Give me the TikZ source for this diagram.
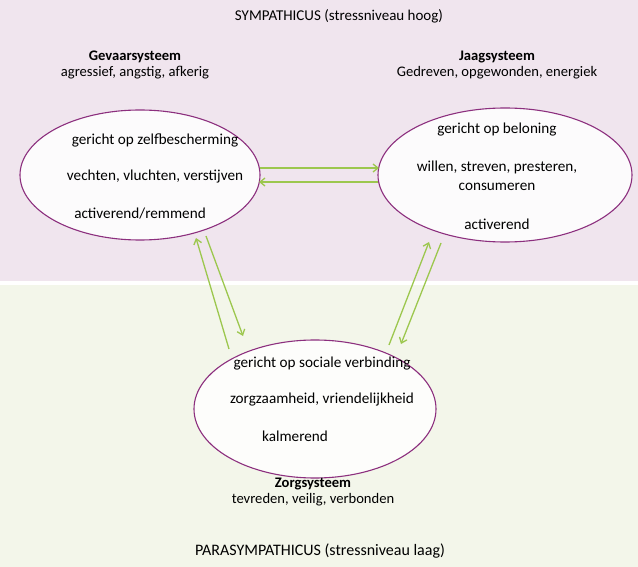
\documentclass[tikz,border=0pt]{standalone}
\usepackage{fontspec}
\setmainfont{Carlito}
\usetikzlibrary{shapes.geometric,arrows.meta}
\definecolor{pinkbg}{HTML}{F0E5EE}
\definecolor{greenbg}{HTML}{F3F6EA}
\definecolor{purp}{HTML}{8C2F7E}
\definecolor{arr}{HTML}{9CC74E}
\begin{document}
\begin{tikzpicture}[x=1pt,y=-1pt,font=\fontsize{15.2}{17}\selectfont,
  sys/.style={ellipse,draw=purp,line width=1.1pt,fill=white,fill opacity=0.85,text opacity=1,align=center,inner sep=0pt},
  lbl/.style={align=center,font=\fontsize{14.6}{16.5}\selectfont},
  big/.style={font=\fontsize{15}{17}\selectfont},
  ar/.style={draw=arr,line width=1.3pt,-{Straight Barb[length=5pt,width=8pt]}}]
\useasboundingbox (0,0) rectangle (638,567);
\fill[pinkbg] (0,0) rectangle (638,281);
\fill[greenbg] (0,285) rectangle (638,567);
\node[big] (symp) at (339,16) {SYMPATHICUS (stressniveau hoog)};
\node[font=\fontsize{16}{18}\selectfont] (para) at (320,551) {PARASYMPATHICUS (stressniveau laag)};
\node[sys,minimum width=240pt,minimum height=130pt] (gev) at (140,175) {};
\node (g1) at (155,140) {gericht op zelfbescherming};
\node (g2) at (155,177) {vechten, vluchten, verstijven};
\node (g3) at (140,214) {activerend/remmend};
\node[lbl] (gevt) at (135,65) {\textbf{Gevaarsysteem}\\agressief, angstig, afkerig};
\node[sys,minimum width=254pt,minimum height=134pt] (jaag) at (505,175) {};
\node (j1) at (497,130) {gericht op beloning};
\node[align=center,font=\fontsize{15.2}{19}\selectfont] (j2) at (497,176) {willen, streven, presteren,\\consumeren};
\node (j3) at (497,224) {activerend};
\node[lbl] (jaagt) at (497,65) {\textbf{Jaagsysteem}\\Gedreven, opgewonden, energiek};
\node[sys,minimum width=242pt,minimum height=138pt] (zorg) at (315,409) {};
\node (z1) at (322,364) {gericht op sociale verbinding};
\node (z2) at (322,400) {zorgzaamheid, vriendelijkheid};
\node (z3) at (295,436) {kalmerend};
\node[lbl] (zorgt) at (313,492) {\textbf{Zorgsysteem}\\tevreden, veilig, verbonden};
\coordinate (a1) at (260,168); \coordinate (a2) at (379,168);
\coordinate (b1) at (378,182); \coordinate (b2) at (259,182);
\coordinate (c1) at (206,236); \coordinate (c2) at (243,336);
\coordinate (d1) at (229,349); \coordinate (d2) at (196,238);
\coordinate (e1) at (389,345); \coordinate (e2) at (429,242);
\coordinate (f1) at (441,243); \coordinate (f2) at (401,344);
\draw[ar] (a1) -- (a2); \draw[ar] (b1) -- (b2);
\draw[ar] (c1) -- (c2); \draw[ar] (d1) -- (d2);
\draw[ar] (e1) -- (e2); \draw[ar] (f1) -- (f2);
\end{tikzpicture}
\end{document}
